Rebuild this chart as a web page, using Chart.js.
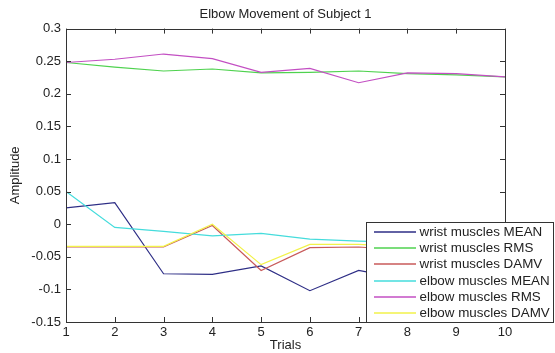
<!DOCTYPE html>
<html>
<head>
<meta charset="utf-8">
<script src="https://cdn.jsdelivr.net/npm/chart.js@4"></script>
<style>
  body { margin: 0; background: #fff; }
  #wrap { width: 555px; height: 353px; }
</style>
</head>
<body>
<div id="wrap"><canvas id="mainChart"></canvas></div>
<script>
// Data
const trials = [1, 2, 3, 4, 5, 6, 7, 8, 9, 10];
const yTicks = [-0.15, -0.1, -0.05, 0, 0.05, 0.1, 0.15, 0.2, 0.25, 0.3];

const wristMean = [0.025, 0.033, -0.076, -0.077, -0.064, -0.102, -0.071, -0.085, -0.075, -0.09];
const wristRms = [0.248, 0.241, 0.235, 0.238, 0.232, 0.233, 0.235, 0.231, 0.229, 0.226];
const wristDamv = [-0.035, -0.035, -0.035, -0.002, -0.071, -0.036, -0.035, -0.04, -0.045, -0.05];
const elbowMean = [0.05, -0.005, -0.011, -0.018, -0.014, -0.023, -0.026, -0.028, -0.03, -0.03];
const elbowRms = [0.248, 0.253, 0.261, 0.254, 0.233, 0.239, 0.217, 0.232, 0.231, 0.226];
const elbowDamv = [-0.034, -0.034, -0.034, 0.0, -0.062, -0.031, -0.031, -0.035, -0.04, -0.045];

const seriesNames = [
  "wrist muscles MEAN",
  "wrist muscles RMS",
  "wrist muscles DAMV",
  "elbow muscles MEAN",
  "elbow muscles RMS",
  "elbow muscles DAMV",
];
const seriesValues = [wristMean, wristRms, wristDamv, elbowMean, elbowRms, elbowDamv];
const seriesColors = ["#2e2e86", "#4fd24f", "#c85a5a", "#45dcdc", "#c34fc3", "#f2f24a"];

const FONT = "'Liberation Sans', Arial, sans-serif";
const AXIS_COLOR = "#333333";

// inside ticks + box frame, matlab style
const framePlugin = {
  id: "frame",
  afterDatasetsDraw(chart) {
    const { ctx, chartArea: a, scales } = chart;
    ctx.save();
    ctx.strokeStyle = AXIS_COLOR;
    ctx.lineWidth = 1;
    ctx.beginPath();
    scales.x.ticks.forEach((t) => {
      const px = Math.round(scales.x.getPixelForValue(t.value)) + 0.5;
      ctx.moveTo(px, a.bottom);
      ctx.lineTo(px, a.bottom - 5);
      ctx.moveTo(px, a.top);
      ctx.lineTo(px, a.top + 5);
    });
    scales.y.ticks.forEach((t) => {
      const py = Math.round(scales.y.getPixelForValue(t.value)) + 0.5;
      ctx.moveTo(a.left, py);
      ctx.lineTo(a.left + 5, py);
      ctx.moveTo(a.right, py);
      ctx.lineTo(a.right - 5, py);
    });
    ctx.stroke();
    ctx.strokeRect(Math.round(a.left) + 0.5, Math.round(a.top) + 0.5,
      Math.round(a.right - a.left), Math.round(a.bottom - a.top));
    ctx.restore();
  },
  afterDraw(chart) {
    // legend box over the lower right corner
    const { ctx } = chart;
    const box = { x: 366.5, y: 222.5, w: 187, h: 100 };
    ctx.save();
    ctx.fillStyle = "#fff";
    ctx.fillRect(box.x, box.y, box.w, box.h);
    ctx.strokeStyle = AXIS_COLOR;
    ctx.lineWidth = 1;
    ctx.strokeRect(box.x, box.y, box.w, box.h);
    ctx.font = "13.4px " + FONT;
    ctx.textBaseline = "middle";
    ctx.fillStyle = "#222";
    chart.data.datasets.forEach((ds, i) => {
      const y = Math.round(231.7 + i * 16.3);
      ctx.strokeStyle = ds.borderColor;
      ctx.lineWidth = 1.5;
      ctx.beginPath();
      ctx.moveTo(374, y);
      ctx.lineTo(416, y);
      ctx.stroke();
      ctx.fillText(ds.label, 419.5, y);
    });
    ctx.restore();
  },
};

const datasets = seriesNames.map((name, i) => ({
  label: name,
  data: trials.map((t, k) => ({ x: t, y: seriesValues[i][k] })),
  borderColor: seriesColors[i],
  backgroundColor: seriesColors[i],
  borderWidth: 1.2,
  pointRadius: 0,
  tension: 0,
  fill: false,
  order: seriesNames.length - i, // later series on top
}));

new Chart(document.getElementById("mainChart"), {
  type: "line",
  data: { datasets },
  options: {
    responsive: true,
    maintainAspectRatio: false,
    animation: false,
    layout: { padding: { left: 0, right: 50, top: 0, bottom: 0 } },
    plugins: {
      legend: { display: false },
      tooltip: { enabled: false },
      title: {
        display: true,
        text: "Elbow Movement of Subject 1",
        fullSize: false,
        color: "#222",
        font: { family: FONT, size: 13, weight: "normal" },
        padding: { top: 7, bottom: 6 },
      },
    },
    scales: {
      x: {
        type: "linear",
        min: 1,
        max: 10,
        afterBuildTicks: (s) => { s.ticks = trials.map((v) => ({ value: v })); },
        afterFit: (s) => { s.height = 31; },
        grid: { display: false, drawTicks: false },
        border: { display: false },
        ticks: {
          color: "#222",
          padding: 3,
          font: { family: FONT, size: 13 },
          callback: (v) => String(v),
        },
        title: {
          display: true,
          text: "Trials",
          color: "#222",
          font: { family: FONT, size: 13 },
          padding: { top: 0, bottom: 0 },
        },
      },
      y: {
        min: -0.15,
        max: 0.3,
        afterBuildTicks: (s) => { s.ticks = yTicks.map((v) => ({ value: v })); },
        afterFit: (s) => { s.width = 66; },
        grid: { display: false, drawTicks: false },
        border: { display: false },
        ticks: {
          color: "#222",
          padding: 5,
          font: { family: FONT, size: 13 },
          callback: (v) => String(Number(v.toFixed(2))),
        },
        title: {
          display: true,
          text: "Amplitude",
          color: "#222",
          font: { family: FONT, size: 13 },
          padding: { top: 8, bottom: 0 },
        },
      },
    },
  },
  plugins: [framePlugin],
});
</script>
</body>
</html>
